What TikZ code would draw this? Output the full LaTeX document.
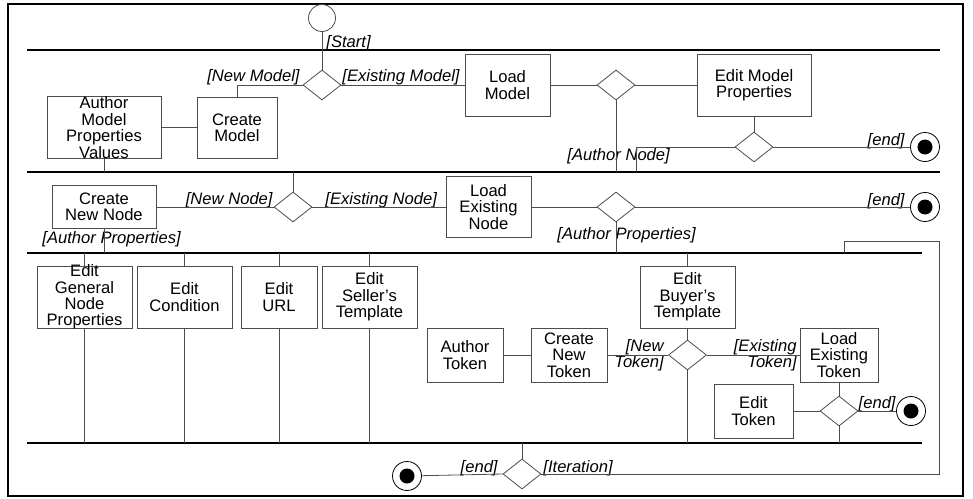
\documentclass[tikz,border=0pt]{standalone}
\usepackage{fontspec}
\setmainfont{Liberation Sans}
\usetikzlibrary{positioning}
\usetikzlibrary{shapes.geometric}

\begin{document}
\begin{tikzpicture}[x=1pt, y=-1pt, line width=0.8pt,
    font=\fontsize{16.6}{16.4}\selectfont,
    act/.style={rectangle, draw=black!70, align=center, inner sep=0pt},
    choice/.style={diamond, draw=black!70, inner sep=0pt, minimum width=38pt, minimum height=30pt},
    flow/.style={draw=black!70},
    guard/.style={font=\fontsize{16.6}{16.4}\selectfont\itshape, inner sep=1pt, align=right},
    lane/.style={line width=2.2pt},
    finish/.style={circle, draw, minimum size=29pt, inner sep=0pt,
        path picture={\fill (path picture bounding box.center) circle (7.5pt);}}]
    \useasboundingbox (0,0) rectangle (973,498);
    \draw [line width=2pt] (8,4) rectangle (963,496);

    % swimlanes
    \draw [lane] (27,50) -- (940,50);
    \draw [lane] (27,172) -- (940,172);
    \draw [lane] (27,253) -- (922,253);
    \draw [lane] (27,443) -- (922,443);
    \coordinate (l2) at (0,172);
    \coordinate (l3) at (0,253);
    \coordinate (l4) at (0,443);

    % model lane
    \node [circle, draw=black!70, minimum size=27pt, inner sep=0pt] (start) at (322,18) {};
    \node [choice] (d1) at (322,85) {};
    \node [act, minimum width=114pt, minimum height=61pt] (amp) at (104,127.5) {Author\\Model\\Properties\\Values};
    \node [act, minimum width=80pt, minimum height=61pt] (cm) at (237,127.5) {Create\\Model};
    \node [act, minimum width=85pt, minimum height=62pt] (lm) at (507.5,85) {Load\\Model};
    \node [choice] (d2) at (616,85) {};
    \node [act, minimum width=114pt, minimum height=62pt] (emp) at (754,85) {Edit Model\\Properties};
    \node [choice] (d3) at (754,147) {};
    \node [finish] (e1) at (925,147) {};
    \coordinate (an) at (636,172);

    \node [guard, anchor=west] (gstart) at (325,43) {[Start]};
    \node [guard, anchor=east] (gnm) at (301,77) {[New Model]};
    \node [guard, anchor=west] (gem) at (341,77) {[Existing Model]};
    \node [guard, anchor=west] (gan) at (566,156) {[Author Node]};
    \node [guard, anchor=east] (gend1) at (906,141) {[end]};

    \path [flow] (start) edge (d1);
    \draw [flow] (d1.west) -| (cm.north);
    \path [flow] (amp) edge (cm);
    \draw [flow] (amp.south) -- (amp.south |- l2);
    \path [flow] (d1) edge (lm);
    \path [flow] (lm) edge (d2);
    \path [flow] (d2) edge (emp);
    \draw [flow] (d2.south) -- (d2.south |- l2);
    \path [flow] (emp) edge (d3);
    \path [flow] (d3) edge (e1);
    \draw [flow] (d3.west) -| (an);

    % node lane
    \node [choice] (d4) at (293,207) {};
    \node [act, minimum width=104pt, minimum height=43pt] (cnn) at (104,207) {Create\\New Node};
    \node [act, minimum width=85pt, minimum height=61pt] (len) at (488.5,207) {Load\\Existing\\Node};
    \node [choice] (d5) at (616,207) {};
    \node [finish] (e2) at (925,207) {};

    \node [guard, anchor=east] (gnn) at (274,200) {[New Node]};
    \node [guard, anchor=west] (gen) at (324,200) {[Existing Node]};
    \node [guard, anchor=east] (gend2) at (906,201) {[end]};
    \node [guard, anchor=west] (gap1) at (41,239) {[Author Properties]};
    \node [guard, anchor=west] (gap2) at (556,235) {[Author Properties]};

    \draw [flow] (d4.north |- l2) -- (d4.north);
    \path [flow] (cnn) edge (d4);
    \path [flow] (d4) edge (len);
    \path [flow] (len) edge (d5);
    \path [flow] (d5) edge (e2);
    \draw [flow] (d5.south) -- (d5.south |- l3);
    \draw [flow] (cnn.south) -- (cnn.south |- l3);

    % properties lane
    \node [act, minimum width=95pt, minimum height=62pt, inner ysep=-1.5pt] (egnp) at (84.5,297) {Edit\\General\\Node\\Properties};
    \node [act, minimum width=95pt, minimum height=62pt] (ec) at (184.5,297) {Edit\\Condition};
    \node [act, minimum width=76pt, minimum height=62pt] (eurl) at (279,297) {Edit\\URL};
    \node [act, minimum width=95pt, minimum height=62pt] (est) at (369.5,297) {Edit\\Seller's\\Template};
    \node [act, minimum width=95pt, minimum height=62pt] (ebt) at (687.5,297) {Edit\\Buyer's\\Template};
    \node [act, minimum width=76pt, minimum height=54pt] (at) at (465,355) {Author\\Token};
    \node [act, minimum width=76pt, minimum height=54pt] (cnt) at (569,355) {Create\\New\\Token};
    \node [choice] (d7) at (687.5,355) {};
    \node [act, minimum width=78pt, minimum height=54pt] (let) at (839,355) {Load\\Existing\\Token};
    \node [choice] (d8) at (839,411) {};
    \node [act, minimum width=79pt, minimum height=54pt] (et) at (753.5,411) {Edit\\Token};
    \node [finish] (e3) at (911,411) {};

    \node [guard, anchor=east] (gnt) at (665,355) {[New\\Token]};
    \node [guard, anchor=east] (get) at (798,355) {[Existing\\Token]};
    \node [guard, anchor=east] (gend3) at (897,404) {[end]};

    \foreach \b in {egnp, ec, eurl, est} {
        \draw [flow] (\b.north |- l3) -- (\b.north);
        \draw [flow] (\b.south) -- (\b.south |- l4);
    }
    \draw [flow] (ebt.north |- l3) -- (ebt.north);
    \path [flow] (ebt) edge (d7);
    \draw [flow] (d7.south) -- (d7.south |- l4);
    \path [flow] (at) edge (cnt);
    \path [flow] (cnt) edge (d7);
    \path [flow] (d7) edge (let);
    \path [flow] (let) edge (d8);
    \path [flow] (et) edge (d8);
    \path [flow] (d8) edge (e3);
    \draw [flow] (d8.south) -- (d8.south |- l4);

    % iteration
    \node [choice] (d6) at (522,474) {};
    \node [finish] (e4) at (407,476) {};
    \coordinate (iter) at (844,253);
    \coordinate (back) at (939,241);

    \node [guard, anchor=east] (gend4) at (499,468) {[end]};
    \node [guard, anchor=west] (git) at (542,468) {[Iteration]};

    \draw [flow] (d6.north |- l4) -- (d6.north);
    \draw [flow] (d6.west) -- (e4);
    \draw [flow] (iter) |- (back) |- (d6.east);
\end{tikzpicture}
\end{document}
